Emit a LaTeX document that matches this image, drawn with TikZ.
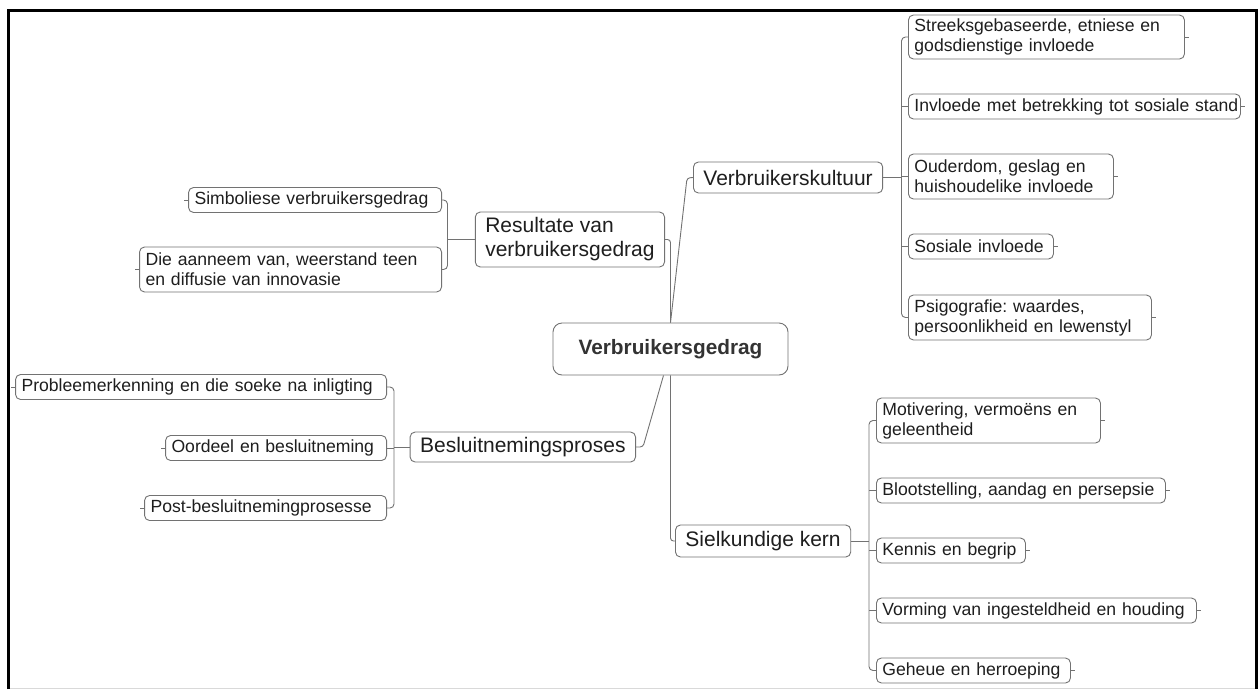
\documentclass[tikz,border=0pt]{standalone}
\usepackage{fontspec}
\setmainfont{Liberation Sans}
\usetikzlibrary{calc}
\frenchspacing
\definecolor{edge}{HTML}{727272}
\definecolor{ink}{HTML}{1E1E1E}
\tikzset{
  base/.style={draw=edge, line width=0.9pt, rounded corners=5pt, text=ink, inner ysep=0pt},
  leaf/.style={base, align=left, inner xsep=6pt, text width=#1-12pt, minimum height=25pt,
    font=\fontsize{17.6}{20}\selectfont},
  branch/.style={base, align=left, inner xsep=10pt, minimum height=31pt,
    font=\fontsize{21}{24}\selectfont},
  rootbox/.style={base, rounded corners=9pt, minimum width=235pt, minimum height=52pt,
    text=black!80, font=\fontsize{20.8}{24}\bfseries\selectfont},
  conn/.style={draw=edge, line width=0.9pt},
  stub/.style={draw=edge, line width=0.9pt},
  frame/.style={line width=3pt, black}
}
\begin{document}
\begin{tikzpicture}[x=1pt, y=-1pt]
\useasboundingbox (0,0) rectangle (1259,689);
\fill[white] (0,0) rectangle (1259,689);

% outer frame
\draw[black!15, line width=1pt] (8,688) -- (1256.5,688);
\draw[frame] (8,689) -- (8,10) -- (1256.5,10) -- (1256.5,689);

% central topic
\node[rootbox] (root) at (670.5,349) {Verbruikersgedrag};

% main branches
\node[branch, anchor=west] (VK) at (693,177.5) {Verbruikerskultuur};
\node[branch, anchor=east, minimum height=55pt] (RV) at (665,239.5) {Resultate van\\verbruikersgedrag};
\node[branch, anchor=east, minimum height=30pt] (BP) at (636,447) {Besluitnemingsproses};
\node[branch, anchor=west, minimum height=32pt] (SK) at (675,541) {Sielkundige kern};

% leaves of Verbruikerskultuur
\node[leaf=276pt, anchor=west, minimum height=44pt] (L1) at (908,37) {Streeksgebaseerde, etniese en\\godsdienstige invloede};
\node[leaf=332pt, anchor=west] (L2) at (908,106.5) {\mbox{Invloede met betrekking tot sosiale stand}};
\node[leaf=205pt, anchor=west, minimum height=45pt] (L3) at (908,176.5) {Ouderdom, geslag en\\huishoudelike invloede};
\node[leaf=145pt, anchor=west] (L4) at (908,246.5) {\mbox{Sosiale invloede}};
\node[leaf=243pt, anchor=west, minimum height=45pt] (L5) at (908,317.5) {Psigografie: waardes,\\persoonlikheid en lewenstyl};

% leaves of Sielkundige kern
\node[leaf=224pt, anchor=west, minimum height=45pt] (M1) at (876,420.5) {Motivering, vermoëns en\\geleentheid};
\node[leaf=289pt, anchor=west] (M2) at (876,490.5) {\mbox{Blootstelling, aandag en persepsie}};
\node[leaf=149pt, anchor=west] (M3) at (876,550.5) {\mbox{Kennis en begrip}};
\node[leaf=320pt, anchor=west] (M4) at (876,610.5) {\mbox{Vorming van ingesteldheid en houding}};
\node[leaf=194pt, anchor=west] (M5) at (876,670.5) {\mbox{Geheue en herroeping}};

% leaves of Besluitnemingsproses
\node[leaf=371pt, anchor=east] (P1) at (387,387) {\mbox{Probleemerkenning en die soeke na inligting}};
\node[leaf=221pt, anchor=east] (P2) at (387,448) {\mbox{Oordeel en besluitneming}};
\node[leaf=242pt, anchor=east] (P3) at (387,508) {\mbox{Post-besluitnemingprosesse}};

% leaves of Resultate van verbruikersgedrag
\node[leaf=253pt, anchor=east] (R1) at (442,200) {\mbox{Simboliese verbruikersgedrag}};
\node[leaf=302pt, anchor=east, minimum height=45pt] (R2) at (442,269.5) {Die aanneem van, weerstand teen\\en diffusie van innovasie};

% trunk positions
\coordinate (tVK) at (901.5,0);
\coordinate (tSK) at (869,0);
\coordinate (tBP) at (394,0);
\coordinate (tRV) at (447.5,0);
\coordinate (kVK) at (687,178);
\coordinate (kBP) at (643,447);

% central topic to main branches
\draw[conn, rounded corners=3pt] (root.north) -- (kVK) -- (VK.west);
\draw[conn, rounded corners=3pt] (root.north) |- (RV.east);
\draw[conn, rounded corners=3pt] ($(root.south)+(-7,0)$) -- (kBP) -- (BP.east);
\draw[conn, rounded corners=3pt] (root.south) |- (SK.west);

% Verbruikerskultuur bracket
\draw[conn] (VK.east) -- (VK.east -| tVK);
\draw[conn, rounded corners=4pt] (L1.west) -- (L1.west -| tVK) -- (L5.west -| tVK) -- (L5.west);
\foreach \n in {L2,L3,L4} \draw[conn] (\n.west -| tVK) -- (\n.west);

% Sielkundige kern bracket
\draw[conn] (SK.east) -- (SK.east -| tSK);
\draw[conn, rounded corners=4pt] (M1.west) -- (M1.west -| tSK) -- (M5.west -| tSK) -- (M5.west);
\foreach \n in {M2,M3,M4} \draw[conn] (\n.west -| tSK) -- (\n.west);

% Besluitnemingsproses bracket
\draw[conn] (BP.west) -- (BP.west -| tBP);
\draw[conn, rounded corners=4pt] (P1.east) -- (P1.east -| tBP) -- (P3.east -| tBP) -- (P3.east);
\draw[conn] (P2.east -| tBP) -- (P2.east);

% Resultate bracket
\draw[conn] (RV.west) -- (RV.west -| tRV);
\draw[conn, rounded corners=4pt] (R1.east) -- (R1.east -| tRV) -- (R2.east -| tRV) -- (R2.east);

% end markers on the outer side of the leaves
\foreach \n in {L1,L2,L3,L4,L5,M1,M2,M3,M4,M5} \draw[stub] (\n.east) -- ++(4,0);
\foreach \n in {P1,P2,P3,R1,R2} \draw[stub] (\n.west) -- ++(-4,0);
\end{tikzpicture}
\end{document}
